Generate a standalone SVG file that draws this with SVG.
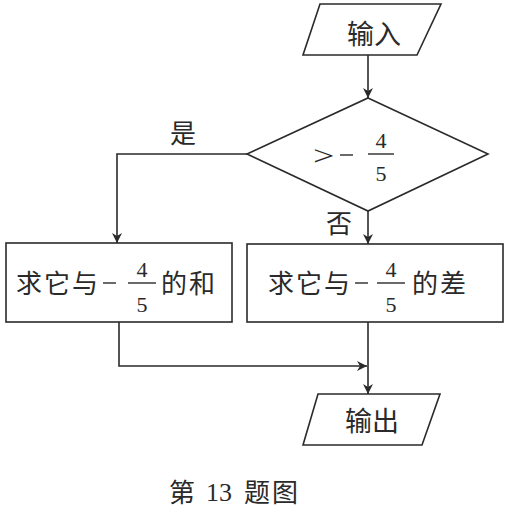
<svg xmlns="http://www.w3.org/2000/svg" width="506" height="511" viewBox="0 0 506 511">
<defs>
<marker id="arr" viewBox="0 0 10 10" refX="10" refY="5" markerWidth="10" markerHeight="10" markerUnits="userSpaceOnUse" orient="auto">
<path d="M0,0 L10,5 L0,10 L3,5 Z" fill="#2a2a2a"/>
</marker>
</defs>
<style>
.sh{fill:#fff;stroke:#2a2a2a;stroke-width:1.6}
.ln{fill:none;stroke:#2a2a2a;stroke-width:1.6}
.cj{font-family:"Noto Sans CJK SC","Noto Sans CJK JP",sans-serif;font-size:26px;fill:#2a2a2a}
.nm{font-family:"Liberation Serif","DejaVu Serif",serif;font-size:22px;fill:#2a2a2a}
.bar{stroke:#2a2a2a;stroke-width:1.4}
</style>
<rect width="506" height="511" fill="#fff"/>
<g id="connectors">
<line class="ln" x1="368" y1="55" x2="368" y2="98" marker-end="url(#arr)"/>
<polyline class="ln" points="247,154 117,154 117,243" marker-end="url(#arr)"/>
<line class="ln" x1="368" y1="211" x2="368" y2="244" marker-end="url(#arr)"/>
<polyline class="ln" points="119,322 119,366 367,366" marker-end="url(#arr)"/>
<line class="ln" x1="368" y1="322" x2="368" y2="394" marker-end="url(#arr)"/>
<text class="cj" x="183" y="143" text-anchor="middle">是</text>
<text class="cj" x="339" y="233" text-anchor="middle">否</text>
</g>
<g id="input">
<polygon class="sh" points="320,4 441,4 417,55 303,55"/>
<text class="cj" x="374" y="44" text-anchor="middle" style="font-size:27px">输入</text>
</g>
<g id="decision">
<polygon class="sh" points="368,98 488,154 368,211 247,154"/>
<text class="nm" x="313" y="165" transform="translate(313 0) scale(1.35 1) translate(-313 0)" style="font-size:28px">&gt;</text>
<line class="bar" x1="340" y1="155" x2="353" y2="155"/>
<text class="nm" x="381" y="148" text-anchor="middle">4</text>
<line class="bar" x1="368" y1="154" x2="394" y2="154"/>
<text class="nm" x="381" y="181" text-anchor="middle">5</text>
</g>
<g id="sum">
<rect class="sh" x="6" y="243" width="226" height="79"/>
<text class="cj" x="16" y="293" letter-spacing="2">求它与</text>
<line class="bar" x1="103" y1="283" x2="116" y2="283"/>
<text class="nm" x="142" y="277" text-anchor="middle">4</text>
<line class="bar" x1="128" y1="283" x2="156" y2="283"/>
<text class="nm" x="142" y="312" text-anchor="middle">5</text>
<text class="cj" x="161" y="293" letter-spacing="2">的和</text>
</g>
<g id="diff">
<rect class="sh" x="247" y="244" width="256" height="78"/>
<text class="cj" x="268" y="293" letter-spacing="2">求它与</text>
<line class="bar" x1="355" y1="283" x2="368" y2="283"/>
<text class="nm" x="391" y="277" text-anchor="middle">4</text>
<line class="bar" x1="377" y1="283" x2="405" y2="283"/>
<text class="nm" x="391" y="312" text-anchor="middle">5</text>
<text class="cj" x="412" y="293" letter-spacing="2">的差</text>
</g>
<g id="output">
<polygon class="sh" points="318,394 440,394 422,445 303,445"/>
<text class="cj" x="372" y="431" text-anchor="middle" style="font-size:27px">输出</text>
</g>
<g id="caption">
<text class="cj" x="169" y="502">第</text>
<text class="nm" x="206" y="501" style="font-size:26px">13</text>
<text class="cj" x="244" y="502" letter-spacing="2">题图</text>
</g>
</svg>
